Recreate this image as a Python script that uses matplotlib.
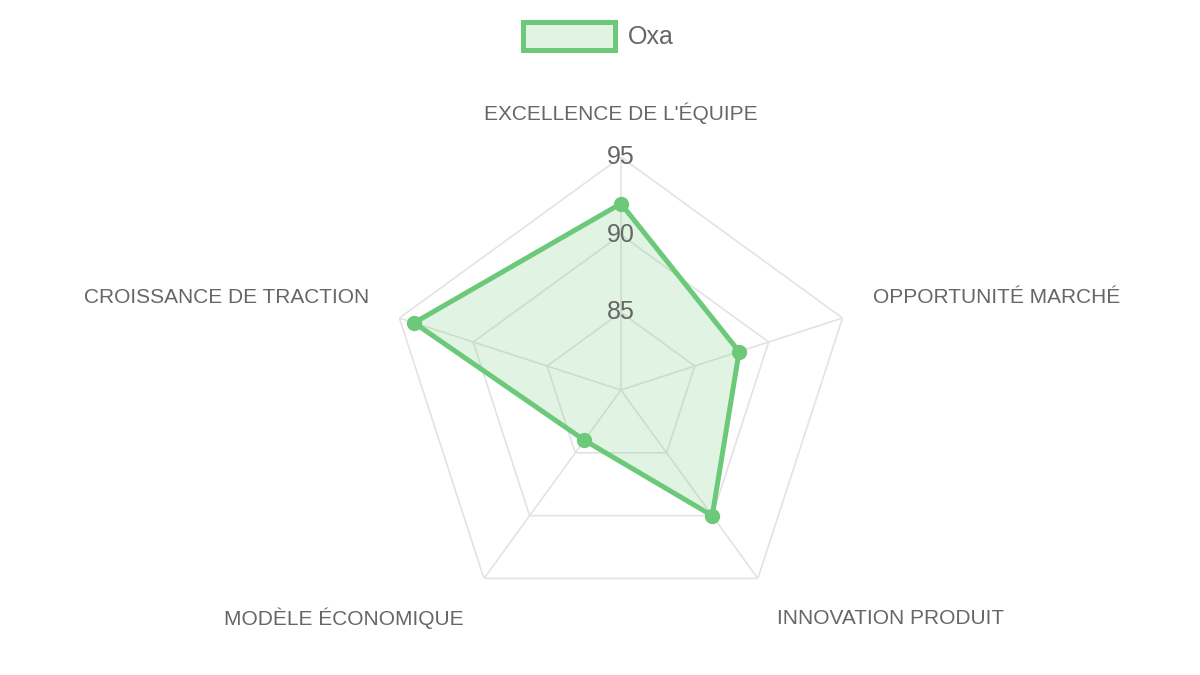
#Radar chart - startup evaluation scores

import numpy as np
import matplotlib
matplotlib.use("Agg")
import matplotlib.pyplot as plt
from matplotlib.patches import Rectangle

# data
categories = ["EXCELLENCE DE L'ÉQUIPE", "OPPORTUNITÉ MARCHÉ", "INNOVATION PRODUIT",
              "MODÈLE ÉCONOMIQUE", "CROISSANCE DE TRACTION"]
scores = [92, 88, 90, 84, 94]
series_name = "Oxa"
r_min, r_max = 80, 95
ring_ticks = [85, 90, 95]

LINE = "#6cc97a"
GRID = "#e3e3e3"
TEXT = "#666666"

plt.rcParams["font.family"] = ["Liberation Sans", "DejaVu Sans"]

fig = plt.figure(figsize=(12, 6.75), dpi=100)
ax = fig.add_axes([0.3233, 0.077, 0.3883, 0.6904], projection="polar")
ax.set_theta_offset(np.pi / 2)
ax.set_theta_direction(-1)
ax.set_ylim(r_min, r_max)
ax.grid(False)
ax.set_xticks([])
ax.set_yticks([])
ax.spines["polar"].set_visible(False)
ax.patch.set_alpha(0)

angles = np.linspace(0, 2 * np.pi, len(categories), endpoint=False)
closed = np.append(angles, angles[0])

# pentagon grid + spokes
for r in ring_ticks:
    ax.plot(closed, [r] * len(closed), color=GRID, lw=1.2, zorder=1)
for a in angles:
    ax.plot([a, a], [r_min, r_max], color=GRID, lw=1.2, zorder=1)

# data
vals = np.append(scores, scores[0])
ax.fill(closed, vals, color=LINE, alpha=0.2, lw=0, zorder=2)
ax.plot(closed, vals, color=LINE, lw=3.6, zorder=3, solid_joinstyle="miter")
ax.plot(angles, scores, "o", color=LINE, ms=10, zorder=4)

# ring labels
for r in ring_ticks:
    ax.text(0, r, str(r), ha="center", va="center", fontsize=18, color=TEXT, zorder=5)

# category labels
offsets = [(0, 44), (30, 21), (19, -40), (-20, -40), (-30, 21)]
aligns = ["center", "left", "left", "right", "right"]
for a, lab, off, ha in zip(angles, categories, offsets, aligns):
    ax.annotate(lab, xy=(a, r_max), xytext=off, textcoords="offset pixels",
                ha=ha, va="center", fontsize=15, color=TEXT, annotation_clip=False)

# legend
fig.add_artist(Rectangle((522.5 / 1200, 1 - 50 / 675), 92 / 1200, 27.5 / 675,
                         transform=fig.transFigure, facecolor=LINE, alpha=0.2, lw=0))
fig.add_artist(Rectangle((522.5 / 1200, 1 - 50 / 675), 92 / 1200, 27.5 / 675,
                         transform=fig.transFigure, facecolor="none", edgecolor=LINE, lw=3.6))
fig.text(628 / 1200, 1 - 37 / 675, series_name, ha="left", va="center", fontsize=18, color=TEXT)

fig.savefig("out.png", dpi=100, facecolor="white")
